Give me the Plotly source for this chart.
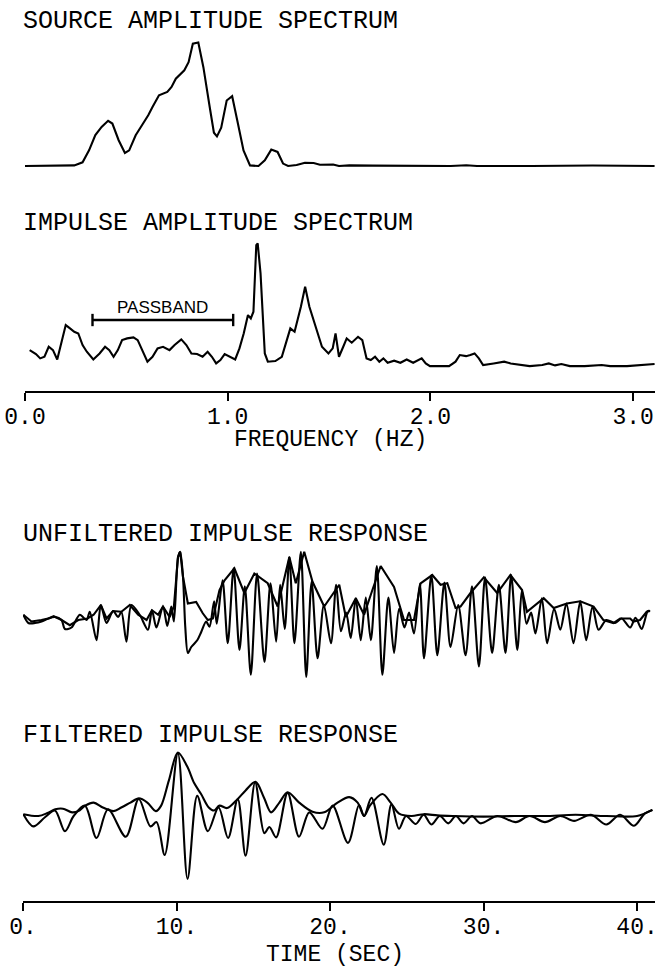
import plotly.graph_objects as go

# ---------------- data ----------------
# Source amplitude spectrum (Hz, relative amplitude)
src_freq = [0.0, 0.243, 0.284, 0.316, 0.347, 0.378, 0.410, 0.431, 0.462, 0.493,
            0.514, 0.546, 0.577, 0.608, 0.629, 0.661, 0.702, 0.723, 0.744, 0.786,
            0.807, 0.828, 0.855, 0.880, 0.911, 0.932, 0.947, 0.968, 0.995, 1.022,
            1.047, 1.078, 1.110, 1.152, 1.183, 1.215, 1.246, 1.273, 1.298, 1.340,
            1.381, 1.424, 1.455, 1.486, 1.520, 1.549, 1.600, 1.716, 1.900, 2.100,
            2.177, 2.230, 2.500, 2.800, 3.106]
src_amp = [0.0, 0.005, 0.03, 0.127, 0.25, 0.317, 0.366, 0.344, 0.209, 0.106,
           0.127, 0.249, 0.33, 0.411, 0.478, 0.573, 0.6, 0.64, 0.707, 0.775,
           0.84, 0.99, 1.0, 0.80, 0.48, 0.27, 0.24, 0.31, 0.53, 0.565,
           0.37, 0.127, 0.005, 0.0, 0.046, 0.133, 0.114, 0.02, 0.0, 0.008,
           0.027, 0.024, 0.011, 0.013, 0.012, 0.0, 0.005, 0.003, 0.0, 0.0,
           0.006, 0.0, 0.0, 0.004, 0.0]

# Impulse amplitude spectrum (Hz, relative amplitude)
imp_freq = [0.023, 0.054, 0.075, 0.096, 0.117, 0.138, 0.159, 0.180, 0.201, 0.222,
            0.243, 0.263, 0.284, 0.305, 0.337, 0.368, 0.395, 0.416, 0.437, 0.458,
            0.479, 0.504, 0.535, 0.556, 0.577, 0.604, 0.629, 0.654, 0.681, 0.713,
            0.738, 0.771, 0.796, 0.821, 0.849, 0.876, 0.901, 0.922, 0.943, 0.964,
            0.985, 1.016, 1.037, 1.058, 1.079, 1.100, 1.114, 1.127, 1.141, 1.148,
            1.162, 1.183, 1.198, 1.235, 1.267, 1.309, 1.330, 1.361, 1.382, 1.403,
            1.434, 1.465, 1.497, 1.518, 1.532, 1.549, 1.570, 1.587, 1.612, 1.643,
            1.664, 1.685, 1.706, 1.727, 1.748, 1.768, 1.789, 1.821, 1.852, 1.883,
            1.915, 1.957, 1.977, 1.998, 2.092, 2.124, 2.145, 2.176, 2.197, 2.218,
            2.239, 2.260, 2.312, 2.364, 2.396, 2.490, 2.552, 2.584, 2.615, 2.646,
            2.688, 2.761, 2.845, 2.887, 2.970, 3.054, 3.106]
imp_amp = [0.135, 0.103, 0.068, 0.081, 0.162, 0.135, 0.059, 0.189, 0.338, 0.311,
           0.284, 0.270, 0.176, 0.122, 0.059, 0.108, 0.162, 0.135, 0.081, 0.135,
           0.216, 0.230, 0.238, 0.216, 0.135, 0.041, 0.081, 0.149, 0.162, 0.135,
           0.176, 0.222, 0.176, 0.108, 0.103, 0.081, 0.122, 0.081, 0.027, 0.054,
           0.103, 0.076, 0.059, 0.149, 0.270, 0.419, 0.392, 0.446, 0.986, 1.0,
           0.757, 0.108, 0.041, 0.046, 0.081, 0.311, 0.284, 0.486, 0.649, 0.486,
           0.324, 0.162, 0.108, 0.149, 0.270, 0.081, 0.162, 0.230, 0.195, 0.243,
           0.216, 0.068, 0.054, 0.081, 0.041, 0.068, 0.032, 0.049, 0.032, 0.059,
           0.032, 0.068, 0.027, 0.005, 0.005, 0.041, 0.095, 0.086, 0.095, 0.108,
           0.068, 0.014, 0.027, 0.041, 0.027, 0.005, 0.014, 0.027, 0.011, 0.022,
           0.005, 0.005, 0.014, 0.005, 0.005, 0.014, 0.022]

# Filter passband (Hz)
passband = [0.333, 1.027]

# Unfiltered impulse response: trace extrema (s, relative amplitude)
unf_time = [0.02, 0.35, 0.78, 1.21, 1.65, 2.08, 2.51, 2.73, 3.16, 3.70,
            4.14, 4.35, 4.79, 5.07, 5.44, 5.87, 6.20, 6.41, 6.74, 7.06,
            7.60, 8.14, 8.40, 8.69, 9.12, 9.40, 9.66, 9.83, 10.10, 10.24,
            10.42, 10.57, 10.74, 10.96, 11.35, 11.61, 11.93, 12.15, 12.45, 12.62,
            13.00, 13.34, 13.72, 14.10, 14.45, 14.84, 15.25, 15.73, 16.12, 16.49,
            16.75, 17.05, 17.35, 17.68, 18.10, 18.45, 18.80, 19.19, 19.60, 20.06,
            20.40, 20.71, 21.05, 21.35, 21.68, 22.00, 22.33, 22.66, 23.05, 23.41,
            23.80, 24.17, 24.50, 24.85, 25.15, 25.47, 25.85, 26.12, 26.60, 26.99,
            27.45, 27.85, 28.35, 28.83, 29.25, 29.70, 30.10, 30.56, 31.00, 31.43,
            31.80, 32.20, 32.50, 32.80, 33.10, 33.38, 33.80, 34.14, 34.60, 35.00,
            35.40, 35.86, 36.30, 36.69, 37.10, 37.49, 38.00, 38.57, 39.00, 39.55,
            39.90, 40.30, 40.70, 40.85]
unf_amp = [0.07, -0.04, -0.04, -0.02, 0.02, 0.04, 0.0, -0.12, -0.10, 0.07,
           0.0, 0.11, -0.27, 0.20, -0.04, 0.12, 0.04, 0.11, -0.29, 0.20,
           0.07, -0.13, 0.13, -0.10, 0.18, -0.08, 0.18, -0.02, 0.84, 0.91,
           0.58, -0.09, -0.44, -0.36, -0.27, -0.16, -0.02, -0.09, 0.25, -0.05,
           0.53, -0.31, 0.69, -0.40, 0.45, -0.73, 0.62, -0.56, 0.49, -0.29,
           0.47, -0.12, 0.84, -0.31, 0.91, -0.76, 0.51, -0.51, 0.20, -0.31,
           0.47, -0.15, 0.10, -0.24, 0.29, -0.27, 0.30, -0.27, 0.72, -0.73,
           0.30, -0.44, 0.15, -0.10, 0.10, -0.18, 0.48, -0.51, 0.60, -0.47,
           0.50, -0.36, 0.20, -0.47, 0.45, -0.62, 0.57, -0.44, 0.47, -0.44,
           0.60, -0.40, 0.40, -0.05, 0.10, -0.18, 0.29, -0.31, 0.15, -0.13,
           0.22, -0.31, 0.25, -0.27, 0.18, -0.13, 0.0, -0.04, 0.02, -0.10,
           0.03, -0.12, 0.12, 0.12]

# Unfiltered impulse response: second (peak-following) trace
unf_env_time = [0.02, 0.55, 1.20, 1.65, 2.00, 2.51, 3.05, 3.60, 4.20, 4.60,
                5.07, 5.44, 5.87, 6.41, 6.96, 7.50, 8.05, 8.40, 8.80, 9.12,
                9.55, 9.83, 10.10, 10.24, 10.42, 10.74, 11.28, 11.71, 12.04, 12.37,
                12.80, 13.13, 13.77, 14.42, 15.07, 15.94, 16.59, 16.92, 17.35, 17.77,
                18.32, 18.86, 19.62, 20.60, 21.03, 21.68, 22.22, 22.76, 23.30, 24.17,
                24.82, 25.47, 25.90, 26.66, 27.20, 27.64, 28.18, 28.50, 29.15, 30.02,
                30.89, 31.75, 32.51, 32.83, 33.92, 34.57, 35.43, 36.30, 37.17, 37.81,
                38.46, 38.90, 39.55, 39.76, 40.20, 40.63, 40.85]
unf_env_amp = [0.07, -0.02, 0.0, 0.02, 0.05, 0.0, -0.07, 0.0, 0.02, 0.07,
               0.20, 0.02, 0.12, 0.11, 0.20, 0.07, 0.0, 0.13, 0.07, 0.18,
               0.04, 0.18, 0.84, 0.91, 0.58, 0.22, 0.24, 0.09, 0.0, 0.02,
               0.40, 0.53, 0.69, 0.36, 0.62, 0.49, 0.18, 0.47, 0.84, 0.49,
               0.91, 0.51, 0.18, 0.47, 0.04, 0.29, 0.07, 0.40, 0.72, 0.44,
               0.0, 0.0, 0.49, 0.60, 0.47, 0.49, 0.16, 0.18, 0.36, 0.57,
               0.36, 0.60, 0.40, 0.11, 0.29, 0.16, 0.22, 0.25, 0.18, 0.0,
               -0.04, 0.02, 0.02, -0.02, 0.0, 0.11, 0.12]

# Filtered impulse response: trace extrema (s, relative amplitude)
fil_time = [0.02, 0.67, 1.43, 2.08, 2.73, 3.30, 4.03, 4.79, 5.54, 6.70,
            7.54, 8.30, 8.70, 9.23, 10.09, 10.72, 11.35, 12.04, 12.74, 13.36,
            13.99, 14.50, 15.12, 15.72, 16.05, 16.49, 17.24, 17.98, 18.65, 19.51,
            20.17, 21.17, 21.89, 22.22, 22.70, 23.50, 24.00, 24.49, 24.95, 25.58,
            26.10, 26.60, 27.15, 27.70, 28.20, 28.70, 29.25, 29.80, 30.90, 32.10,
            33.00, 34.00, 35.00, 35.90, 37.00, 38.00, 38.90, 39.80, 40.50, 41.00]
fil_amp = [0.03, -0.17, -0.02, 0.09, -0.25, 0.0, 0.17, -0.36, 0.11, -0.34,
           0.28, -0.17, -0.10, -0.64, 1.03, -1.03, 0.33, -0.25, 0.14, -0.36,
           0.28, -0.65, 0.55, -0.28, -0.18, -0.35, 0.38, -0.34, 0.06, -0.21,
           0.17, -0.44, 0.18, 0.0, 0.30, -0.47, 0.19, -0.21, 0.0, -0.13,
           0.02, -0.14, 0.0, -0.12, 0.0, -0.12, 0.0, -0.12, 0.0, -0.10,
           0.0, -0.10, 0.0, -0.08, 0.02, -0.14, 0.02, -0.16, 0.04, 0.10]

# Filtered impulse response: envelope
env_time = [0.02, 1.00, 1.60, 2.10, 2.60, 3.20, 3.60, 4.05, 4.60, 5.20,
            5.90, 6.40, 7.00, 7.55, 8.10, 8.65, 9.00, 9.50, 10.09, 10.70,
            11.15, 11.60, 12.10, 12.45, 12.80, 13.30, 13.99, 14.50, 15.15, 15.70,
            16.16, 16.70, 17.24, 17.99, 18.86, 19.62, 20.49, 21.25, 21.80, 22.22,
            22.60, 23.41, 23.95, 24.50, 25.30, 26.12, 27.00, 28.00, 30.00, 32.00,
            34.00, 36.00, 38.00, 40.00, 41.00]
env_amp = [0.03, 0.0, 0.05, 0.11, 0.12, 0.06, 0.08, 0.17, 0.22, 0.14,
           0.08, 0.14, 0.22, 0.29, 0.22, 0.08, 0.17, 0.58, 1.04, 0.81,
           0.54, 0.36, 0.14, 0.09, 0.17, 0.13, 0.28, 0.42, 0.56, 0.30,
           0.06, 0.22, 0.39, 0.22, 0.07, 0.06, 0.22, 0.31, 0.22, 0.0,
           0.17, 0.36, 0.22, 0.04, 0.0, 0.03, 0.01, 0.0, -0.01, 0.0,
           0.0, 0.02, 0.0, 0.0, 0.10]

freq_ticks = [0, 1, 2, 3]
freq_tick_text = ["0.0", "1.0", "2.0", "3.0"]
time_ticks = [0, 10, 20, 30, 40]
time_tick_text = ["0.", "10.", "20.", "30.", "40."]

# ---------------- layout helpers ----------------
W, H = 660, 967
PLOT_FONT = "Liberation Mono, DejaVu Sans Mono, monospace"


def py(px):
    """Pixel row -> paper y."""
    return 1 - px / H


def px_x(px):
    return px / W


ink = "black"
LW = 2.1
fig = go.Figure()

# Spectra (share the frequency axis)
fig.add_trace(go.Scatter(x=src_freq, y=src_amp, mode="lines", xaxis="x", yaxis="y",
                         line=dict(color=ink, width=LW), hoverinfo="skip"))
fig.add_trace(go.Scatter(x=imp_freq, y=imp_amp, mode="lines", xaxis="x", yaxis="y2",
                         line=dict(color=ink, width=LW), hoverinfo="skip"))

# Time series (share the time axis)
fig.add_trace(go.Scatter(x=unf_env_time, y=unf_env_amp, mode="lines", xaxis="x2", yaxis="y3",
                         line=dict(color=ink, width=LW), hoverinfo="skip"))
fig.add_trace(go.Scatter(x=unf_time, y=unf_amp, mode="lines", xaxis="x2", yaxis="y3",
                         line=dict(color=ink, width=LW, shape="spline", smoothing=0.8),
                         hoverinfo="skip"))
fig.add_trace(go.Scatter(x=env_time, y=env_amp, mode="lines", xaxis="x2", yaxis="y4",
                         line=dict(color=ink, width=LW, shape="spline", smoothing=0.9),
                         hoverinfo="skip"))
fig.add_trace(go.Scatter(x=fil_time, y=fil_amp, mode="lines", xaxis="x2", yaxis="y4",
                         line=dict(color=ink, width=LW, shape="spline", smoothing=0.9),
                         hoverinfo="skip"))

# Passband bracket on the impulse spectrum
bar_y, cap = 0.379, 0.05
fig.add_shape(type="line", xref="x", yref="y2", x0=passband[0], x1=passband[1],
              y0=bar_y, y1=bar_y, line=dict(color=ink, width=2.4))
for f in passband:
    fig.add_shape(type="line", xref="x", yref="y2", x0=f, x1=f,
                  y0=bar_y - cap, y1=bar_y + cap, line=dict(color=ink, width=2.4))
fig.add_annotation(x=sum(passband) / 2, y=0.48, xref="x", yref="y2", text="PASSBAND",
                   showarrow=False, font=dict(family="Liberation Sans, Arial, sans-serif",
                                              size=17, color=ink))

# Panel titles and axis titles
labels = [("SOURCE AMPLITUDE SPECTRUM", 21, 21.7, "left", 25),
          ("IMPULSE AMPLITUDE SPECTRUM", 21, 223.5, "left", 25),
          ("UNFILTERED IMPULSE RESPONSE", 21, 534, "left", 25),
          ("FILTERED IMPULSE RESPONSE", 21, 735, "left", 25),
          ("FREQUENCY (HZ)", 330, 440, "center", 23),
          ("TIME (SEC)", 335, 955, "center", 23)]
for text, xpx, ypx, anchor, size in labels:
    fig.add_annotation(x=px_x(xpx), y=py(ypx), xref="paper", yref="paper", text=text,
                       showarrow=False, xanchor=anchor, yanchor="middle",
                       font=dict(family=PLOT_FONT, size=size, color=ink))

axis_common = dict(showline=True, linecolor=ink, linewidth=2, ticks="outside",
                   ticklen=8, tickwidth=2, tickcolor=ink, showgrid=False,
                   zeroline=False, anchor="free", automargin=False,
                   ticklabelstandoff=-5,
                   tickfont=dict(family=PLOT_FONT, size=23, color=ink))

fig.update_layout(
    width=W, height=H,
    margin=dict(l=0, r=0, t=0, b=0, autoexpand=False),
    paper_bgcolor="white", plot_bgcolor="rgba(0,0,0,0)",
    showlegend=False,
    xaxis=dict(domain=[px_x(25), px_x(655.4)], range=[0, 3.11],
               position=py(392), tickmode="array", tickvals=freq_ticks,
               ticktext=freq_tick_text, **axis_common),
    xaxis2=dict(domain=[px_x(23), px_x(655)], range=[0, 41.17],
                position=py(902), tickmode="array", tickvals=time_ticks,
                ticktext=time_tick_text, **axis_common),
    yaxis=dict(domain=[py(180), py(30)], range=[-0.113, 1.101], visible=False,
               anchor="free", position=0),
    yaxis2=dict(domain=[py(385), py(230)], range=[-0.148, 1.109], visible=False,
                anchor="free", position=0),
    yaxis3=dict(domain=[py(710), py(540)], range=[-1.2, 1.067], visible=False,
                anchor="free", position=0),
    yaxis4=dict(domain=[py(885), py(740)], range=[-1.131, 1.246], visible=False,
                anchor="free", position=0),
)

fig.write_html("out.html")
